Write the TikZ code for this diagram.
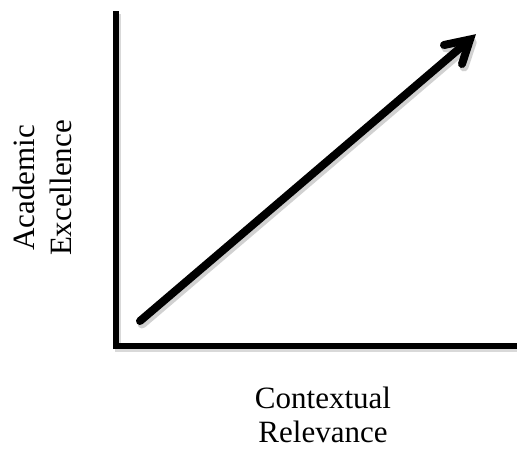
\documentclass[tikz,border=0pt]{standalone}
\usepackage{fontspec}
\setmainfont{Liberation Serif}
\usetikzlibrary{calc}
\begin{document}
\begin{tikzpicture}[x=1pt,y=-1pt,
  axisline/.style={line width=6pt,line join=miter,black},
  shaft/.style={line width=8pt,line cap=round,black},
  headline/.style={line width=8pt,line cap=round,line join=miter,black},
  shadowline/.style={black!18,line width=9pt},
  axislabel/.style={inner sep=0pt,align=center}]
\useasboundingbox (0,0) rectangle (517,448);
% named points
\coordinate (top) at (116,11);
\coordinate (origin) at (116,346);
\coordinate (right) at (517,346);
\coordinate (start) at (140,321);
\coordinate (tip) at (470,39.5);
\coordinate (barbA) at (444,45);
\coordinate (barbB) at (462,64);
% soft shadows
\draw[shadowline,line cap=round] ([shift={(2,3)}]start) -- ([shift={(2,3)}]tip);
\draw[shadowline,line cap=round,line join=round] ([shift={(2,3)}]barbA) -- ([shift={(2,3)}]tip) -- ([shift={(2,3)}]barbB);
\draw[black!15,line width=6pt] ([shift={(2,3)}]top) -- ([shift={(2,3)}]origin) -- ([shift={(2,3)}]right);
% axes
\draw[axisline] (top) -- (origin) -- (right);
% arrow
\draw[shaft] (start) -- ($(tip)!6pt!(start)$);
\draw[headline] (barbA) -- (tip) -- (barbB);
% labels
\node[axislabel,rotate=90,font=\fontsize{31}{37}\selectfont] (ylab) at (42,188) {Academic\\Excellence};
\node[axislabel,font=\fontsize{31}{34}\selectfont] (xlab) at (323,415) {Contextual\\Relevance};
\end{tikzpicture}
\end{document}
